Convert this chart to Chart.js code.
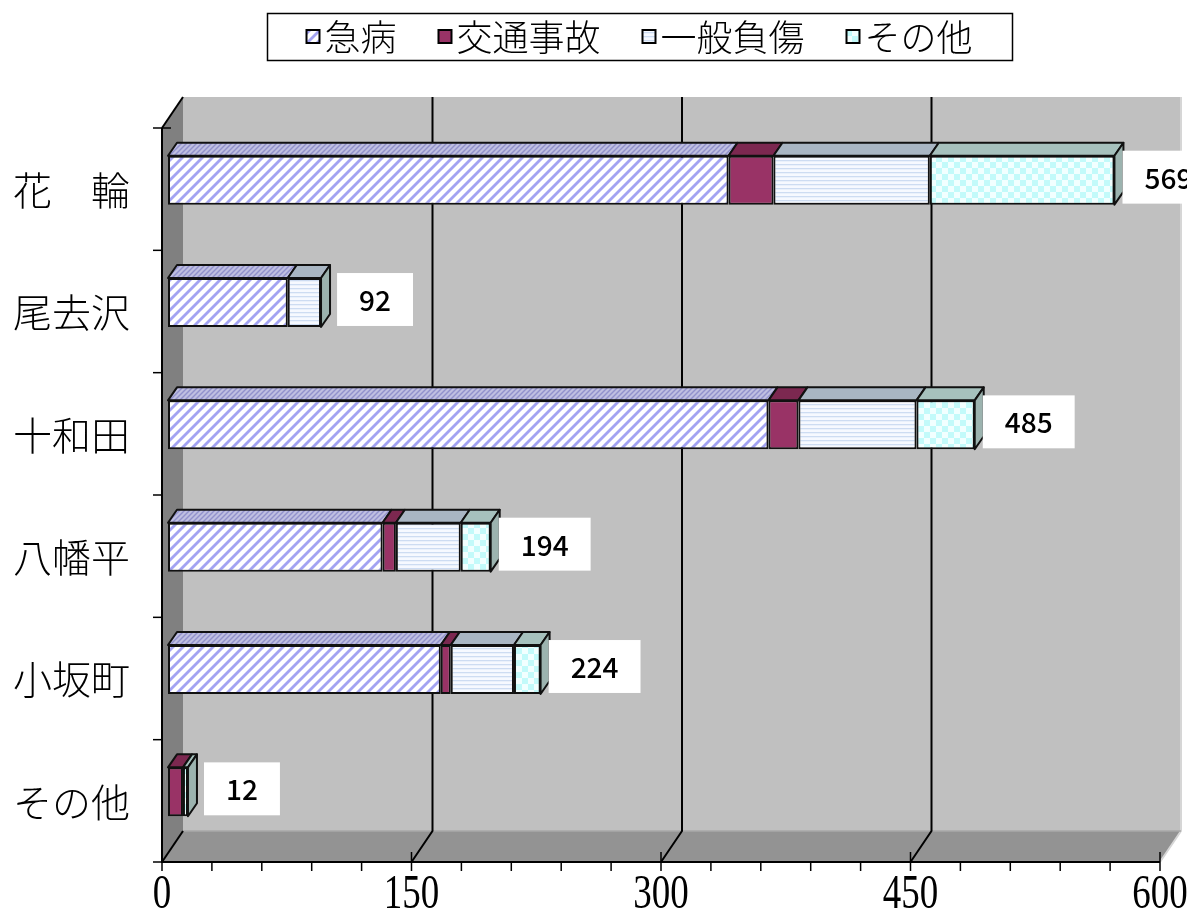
<!DOCTYPE html>
<html>
<head>
<meta charset="utf-8">
<script src="https://cdn.jsdelivr.net/npm/chart.js@4.4.1/dist/chart.umd.min.js"></script>
<style>
html,body{margin:0;padding:0;background:#fff;}
canvas{display:block;}
</style>
</head>
<body>
<canvas id="c" width="1187" height="922"></canvas>
<script>
// ---- data ----
const CATEGORIES = ['花　輪', '尾去沢', '十和田', '八幡平', '小坂町', 'その他'];
const SERIES_NAMES = ['急病', '交通事故', '一般負傷', 'その他'];
const KYUBYO = [337, 72, 361, 129, 164, 0];
const KOTSU_JIKO = [27, 0, 18, 8, 6, 9];
const IPPAN_FUSHO = [94, 20, 71, 39, 38, 0];
const SONOTA = [111, 0, 35, 18, 16, 3];
const X_TICKS = [0, 150, 300, 450, 600];
const X_MINOR_STEP = 30;

const canvas = document.getElementById('c');
const ctx = canvas.getContext('2d');

function makePattern(size, draw) {
  const c = document.createElement('canvas');
  c.width = size; c.height = size;
  const g = c.getContext('2d');
  draw(g, size);
  return ctx.createPattern(c, 'repeat');
}
function diag(bg, fg, size, lw) {
  return makePattern(size, (g, s) => {
    g.fillStyle = bg; g.fillRect(0, 0, s, s);
    g.strokeStyle = fg; g.lineWidth = lw;
    for (let k = -1; k <= 1; k++) {
      g.beginPath();
      g.moveTo(k * s - 1, s + 1);
      g.lineTo(k * s + s + 1, -1);
      g.stroke();
    }
  });
}
const patKyubyo = diag('#ffffff', '#a3a3f2', 10, 2.8);
const patKyubyoTop = diag('#bfbfe0', '#9191cc', 5, 1.4);
const patIppan = makePattern(4, (g) => {
  g.fillStyle = '#f6f9ff'; g.fillRect(0, 0, 4, 4);
  g.fillStyle = '#cddcf2'; g.fillRect(0, 0, 4, 1.3);
});
const patSonota = makePattern(12, (g) => {
  g.fillStyle = '#f2ffff'; g.fillRect(0, 0, 12, 12);
  g.fillStyle = '#c3fafa';
  g.fillRect(0, 0, 6, 6); g.fillRect(6, 6, 6, 6);
});

const FILLS = [patKyubyo, '#993366', patIppan, patSonota];
const TOP_FILLS = [patKyubyoTop, '#7c2850', '#a9b6c3', '#a6c1bd'];
const CAP_FILL = '#9cb3af';
const SERIES = [KYUBYO, KOTSU_JIKO, IPPAN_FUSHO, SONOTA];

const FRONT_SHIFT_X = -6, FRONT_SHIFT_Y = 9;   // front plane relative to bars
const DEPTH_X = 21, DEPTH_Y = -31;             // wall depth
const BAR_DX = 9, BAR_DY = -13;                // bar depth

const deco = {
  id: 'deco',
  beforeDatasetsDraw(chart) {
    const c = chart.ctx, xs = chart.scales.x, ys = chart.scales.y;
    const FX = v => xs.getPixelForValue(v) + FRONT_SHIFT_X;
    const fTop = ys.top + FRONT_SHIFT_Y, fBot = ys.bottom + FRONT_SHIFT_Y;
    const x0 = FX(X_TICKS[0]), x1 = FX(X_TICKS[X_TICKS.length - 1]);
    c.save();
    c.fillStyle = '#c0c0c0';
    c.fillRect(x0 + DEPTH_X, fTop + DEPTH_Y, x1 - x0, fBot - fTop);
    c.fillStyle = '#939393';
    c.beginPath();
    c.moveTo(x0, fBot); c.lineTo(x0 + DEPTH_X, fBot + DEPTH_Y);
    c.lineTo(x1 + DEPTH_X, fBot + DEPTH_Y); c.lineTo(x1, fBot); c.closePath(); c.fill();
    c.fillStyle = '#808080';
    c.beginPath();
    c.moveTo(x0, fTop); c.lineTo(x0 + DEPTH_X, fTop + DEPTH_Y);
    c.lineTo(x0 + DEPTH_X, fBot + DEPTH_Y); c.lineTo(x0, fBot); c.closePath(); c.fill();
    c.strokeStyle = '#d6d6d6'; c.lineWidth = 2;
    c.beginPath();
    c.moveTo(x1 + DEPTH_X, fTop + DEPTH_Y); c.lineTo(x1 + DEPTH_X, fBot + DEPTH_Y); c.lineTo(x1, fBot);
    c.stroke();
    c.strokeStyle = '#a9a9a9'; c.lineWidth = 1.5;
    c.beginPath(); c.moveTo(x0 + DEPTH_X, fBot + DEPTH_Y); c.lineTo(x1 + DEPTH_X, fBot + DEPTH_Y); c.stroke();
    c.strokeStyle = '#000'; c.lineWidth = 2;
    X_TICKS.forEach((v, i) => {
      const fx = FX(v);
      if (i === X_TICKS.length - 1) return;
      c.beginPath();
      if (i > 0) {
        c.moveTo(fx + DEPTH_X, fTop + DEPTH_Y);
        c.lineTo(fx + DEPTH_X, fBot + DEPTH_Y);
      } else {
        c.moveTo(fx + DEPTH_X, fBot + DEPTH_Y);
      }
      c.lineTo(fx, fBot);
      c.stroke();
    });
    c.beginPath(); c.moveTo(x0, fTop); c.lineTo(x0 + DEPTH_X, fTop + DEPTH_Y); c.stroke();
    c.beginPath();
    c.moveTo(x0, fTop); c.lineTo(x0, fBot); c.lineTo(x1, fBot);
    c.stroke();
    c.lineWidth = 1.5;
    for (let v = X_TICKS[0]; v <= X_TICKS[X_TICKS.length - 1]; v += X_MINOR_STEP) {
      const fx = FX(v);
      const major = X_TICKS.includes(v);
      c.beginPath();
      c.moveTo(fx, major && v > 0 ? fBot - 10 : fBot);
      c.lineTo(fx, fBot + 9);
      c.stroke();
    }
    const n = CATEGORIES.length;
    for (let k = 0; k <= n; k++) {
      const y = fTop + k * (fBot - fTop) / n;
      c.beginPath(); c.moveTo(x0 - 9, y); c.lineTo(x0 + (k === 0 ? 9 : 0), y); c.stroke();
    }
    c.restore();
  },
  afterDatasetsDraw(chart) {
    const c = chart.ctx;
    c.save();
    c.lineJoin = 'round';
    const n = CATEGORIES.length;
    for (let j = 0; j < n; j++) {
      let lastRight = null, top = 0, bottom = 0;
      SERIES.forEach((s, i) => {
        const el = chart.getDatasetMeta(i).data[j];
        if (!el || !s[j]) return;
        const p = el.getProps(['x', 'y', 'base', 'height'], true);
        const l = Math.min(p.x, p.base), r = Math.max(p.x, p.base);
        top = p.y - p.height / 2; bottom = p.y + p.height / 2;
        c.fillStyle = TOP_FILLS[i];
        c.strokeStyle = '#111'; c.lineWidth = 2;
        c.beginPath();
        c.moveTo(l, top); c.lineTo(r, top); c.lineTo(r + BAR_DX, top + BAR_DY); c.lineTo(l + BAR_DX, top + BAR_DY);
        c.closePath(); c.fill(); c.stroke();
        lastRight = r;
      });
      if (lastRight !== null) {
        c.fillStyle = CAP_FILL;
        c.beginPath();
        c.moveTo(lastRight, top); c.lineTo(lastRight + BAR_DX, top + BAR_DY);
        c.lineTo(lastRight + BAR_DX, bottom + BAR_DY); c.lineTo(lastRight, bottom);
        c.closePath(); c.fill(); c.stroke();
        const total = SERIES.reduce((a, s) => a + s[j], 0);
        const txt = String(total);
        c.font = '500 28px "Noto Sans CJK JP", "Noto Sans", sans-serif';
        const tw = c.measureText(txt).width;
        const cx = lastRight + 54, cy = (top + bottom) / 2 - 3;
        const bw = tw + 44, bh = bottom - top + 4;
        c.fillStyle = '#fff';
        c.fillRect(cx - bw / 2, cy - bh / 2, bw, bh);
        c.fillStyle = '#000';
        c.textAlign = 'center'; c.textBaseline = 'middle';
        c.fillText(txt, cx, cy + 1);
      }
    }
    c.restore();
  },
  afterDraw(chart) {
    const c = chart.ctx, xs = chart.scales.x, ys = chart.scales.y;
    c.save();
    c.fillStyle = '#000';
    c.font = '300 39px "Noto Sans CJK JP", sans-serif';
    c.textAlign = 'right'; c.textBaseline = 'middle';
    CATEGORIES.forEach((lab, i) => {
      c.fillText(lab, 130, ys.getPixelForValue(i) + 10);
    });
    c.font = '37px "Liberation Serif", "DejaVu Serif", serif';
    c.textAlign = 'center'; c.textBaseline = 'middle';
    X_TICKS.forEach(v => {
      c.save();
      c.translate(xs.getPixelForValue(v) + FRONT_SHIFT_X, 895);
      c.scale(1, 1.3);
      c.fillText(String(v), 0, 0);
      c.restore();
    });
    c.font = '300 36px "Noto Sans CJK JP", sans-serif';
    c.textAlign = 'left';
    const mk = 13, gapMk = 5, gapItem = 42;
    const widths = SERIES_NAMES.map(t => c.measureText(t).width);
    const total = widths.reduce((a, w) => a + mk + gapMk + w, 0) + gapItem * (SERIES_NAMES.length - 1);
    const boxL = 267, boxR = 1012, boxT = 13, boxB = 60;
    c.fillStyle = '#fff';
    c.fillRect(boxL, boxT, boxR - boxL, boxB - boxT);
    c.strokeStyle = '#000'; c.lineWidth = 1.5;
    c.strokeRect(boxL + 0.5, boxT + 0.5, boxR - boxL, boxB - boxT);
    let x = (boxL + boxR) / 2 - total / 2;
    const cy = (boxT + boxB) / 2;
    SERIES_NAMES.forEach((t, i) => {
      c.fillStyle = FILLS[i];
      c.fillRect(x, cy - mk / 2, mk, mk);
      c.strokeStyle = '#000'; c.lineWidth = 2;
      c.strokeRect(x, cy - mk / 2, mk, mk);
      c.fillStyle = '#000';
      c.fillText(t, x + mk + gapMk, cy + 1);
      x += mk + gapMk + widths[i] + gapItem;
    });
    c.restore();
  }
};

new Chart(ctx, {
  type: 'bar',
  data: {
    labels: CATEGORIES,
    datasets: SERIES.map((s, i) => ({
      label: SERIES_NAMES[i],
      data: s,
      backgroundColor: FILLS[i],
      borderColor: '#111',
      borderWidth: 2,
      borderSkipped: false,
      categoryPercentage: 0.4,
      barPercentage: 1.0
    }))
  },
  options: {
    indexAxis: 'y',
    responsive: false,
    animation: false,
    devicePixelRatio: 1,
    layout: { padding: { left: 168, right: 21, top: 119, bottom: 69 } },
    plugins: { legend: { display: false }, tooltip: { enabled: false } },
    scales: {
      x: { type: 'linear', stacked: true, min: 0, max: 600, display: false },
      y: { stacked: true, display: false }
    }
  },
  plugins: [deco]
});
</script>
</body>
</html>
